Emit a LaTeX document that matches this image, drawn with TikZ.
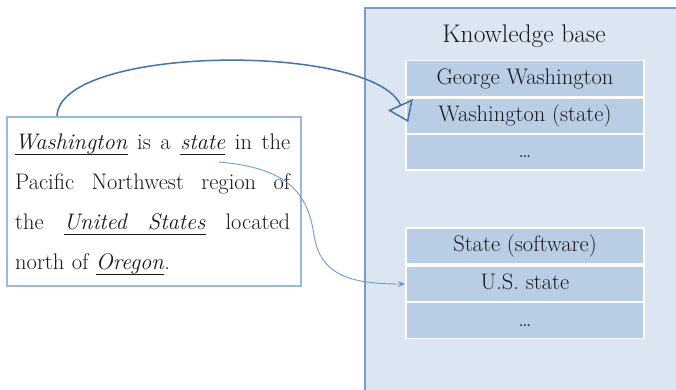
\documentclass[tikz,border=0pt]{standalone}
\usetikzlibrary{arrows.meta,calc}
\definecolor{panelfill}{RGB}{220,230,242}
\definecolor{panelline}{RGB}{125,155,195}
\definecolor{rowfill}{RGB}{185,205,229}
\definecolor{boxline}{RGB}{155,185,220}
\definecolor{linkdark}{RGB}{70,115,170}
\definecolor{linklight}{RGB}{110,155,210}
\definecolor{ink}{RGB}{25,25,25}
% one justified line of the sentence: every interword space stretches equally
\newcommand\jline[1]{\hbox to 275pt{\spaceskip=\fontdimen2\font plus 1fil\relax #1}}
% underlined italic word, rule at a fixed depth below the baseline
\newcommand\uw[1]{\setbox0\hbox{\textit{#1}}\rlap{\rule[-4.8pt]{\wd0}{1pt}}\box0\relax}
% underlined interword space that stretches like the others
\newcommand\uspace{\leaders\hrule height -3.8pt depth 4.8pt\hskip\fontdimen2\font plus 1fil\relax}
\begin{document}
\begin{tikzpicture}[x=1pt,y=-1pt,
  panel/.style={fill=panelfill, draw=panelline, line width=2pt, inner sep=0pt},
  kbrow/.style={fill=rowfill, draw=white, line width=1.5pt, minimum width=238pt,
    minimum height=36pt, inner sep=0pt, text height=16pt, text depth=5pt,
    font=\fontsize{22.5}{26}\selectfont, text=ink},
  textbox/.style={draw=boxline, line width=1.5pt, fill=white, inner sep=0pt},
  link1/.style={draw=linkdark, line width=1.5pt,
    -{Triangle[open, length=19pt, width=27pt, line width=1.5pt]}},
  link2/.style={draw=linklight, line width=0.9pt, -{Stealth[length=7pt, width=6pt]}}]
\useasboundingbox (0,0) rectangle (676,389);
\fill[white] (0,0) rectangle (676,389);

% knowledge base panel
\node[panel, anchor=north west, minimum width=330pt, minimum height=400pt] (kb) at (364,7) {};
\node[font=\fontsize{25.5}{30}\selectfont, text=ink, anchor=base, inner sep=0pt] (title) at (524,42) {Knowledge base};

% candidate entities for "Washington"
\node[kbrow] (gw)  at (525,78.5) {George Washington};
\node[kbrow] (wst) at (525,116)  {Washington (state)};
\node[kbrow] (d1)  at (525,152)  {\dots};

% candidate entities for "state"
\node[kbrow] (st)  at (525,246)  {State (software)};
\node[kbrow] (us)  at (525,284)  {U.S. state};
\node[kbrow] (d2)  at (525,320.5){\dots};

% input sentence
\node[textbox, anchor=north west, minimum width=294pt, minimum height=169pt] (box) at (6,116) {};
\node[anchor=north west, inner sep=0pt, text width=275pt, text=ink,
      font=\fontsize{22.5}{40}\selectfont] (para) at (15,134)
  {\parindent=0pt \baselineskip=40pt
   \jline{\uw{Washington} is a \uw{state} in the}\par
   \jline{Pacific Northwest region of}\par
   \jline{the \uw{United}\uspace\uw{States} located}\par
   north of \uw{Oregon}.\par};

% mention-to-entity links
\coordinate (m1) at ($(box.north west)+(51,0)$);
\coordinate (m2) at (219,162);
\draw[link1] (m1) .. controls (60,45) and (372,42) .. ($(wst.west)+(3,6)$);
\draw[link2] (m2) .. controls (290,168) and (308,195) .. (314,235)
                  .. controls (320,275) and (350,284) .. (us.west);
\end{tikzpicture}
\end{document}
